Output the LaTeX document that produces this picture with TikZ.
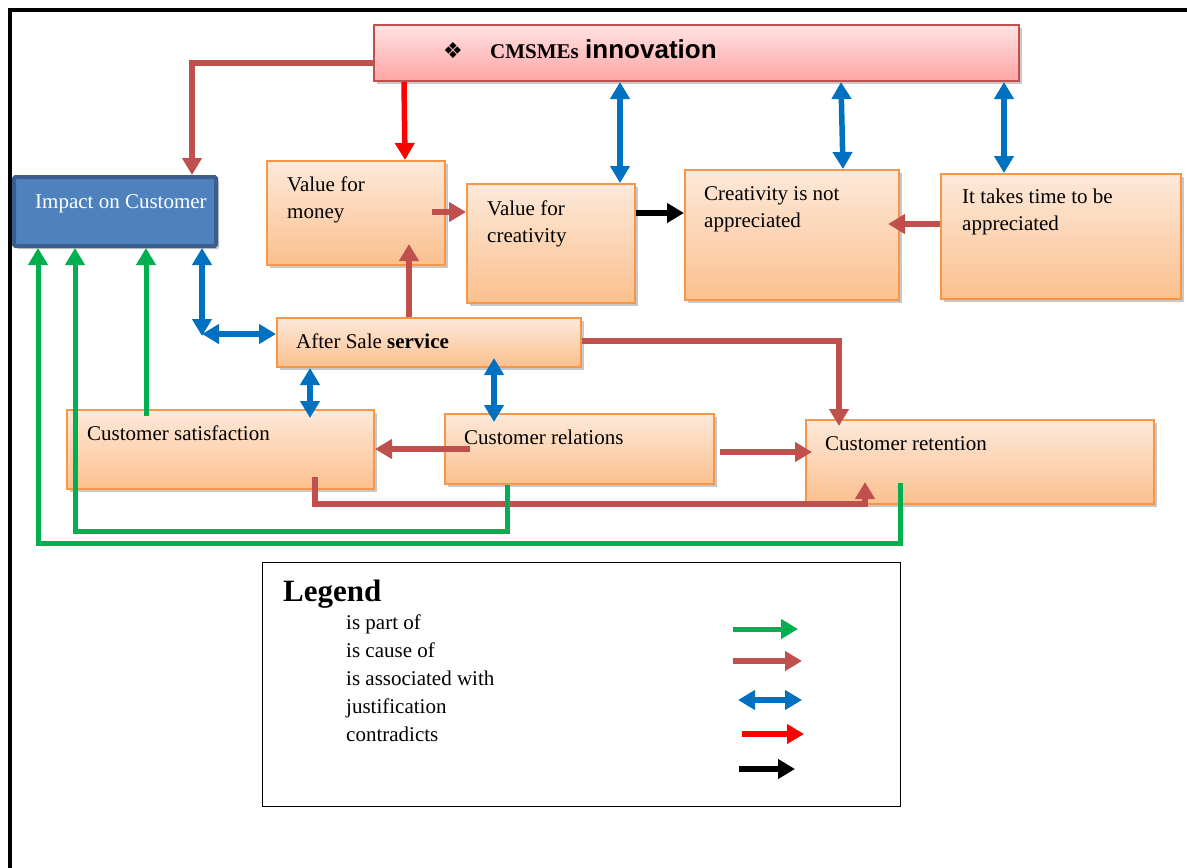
\documentclass[tikz,border=0pt]{standalone}
\usepackage{fontspec}
\setmainfont{Liberation Serif}
\newfontfamily\arialf{Liberation Sans}
\newfontfamily\djv{DejaVu Sans}
\usetikzlibrary{arrows.meta,shadows,calc}
\definecolor{cbrown}{HTML}{C0504D}
\definecolor{cgreen}{HTML}{00B050}
\definecolor{cblue}{HTML}{0070C0}
\definecolor{cred}{HTML}{FF0000}
\definecolor{oborder}{HTML}{F79646}
\definecolor{otop}{HTML}{FDE9DA}
\definecolor{obot}{HTML}{FBC08E}
\definecolor{ptop}{HTML}{FFE3E3}
\definecolor{pbot}{HTML}{FFA4A4}
\definecolor{ibfill}{HTML}{4F81BD}
\definecolor{ibdraw}{HTML}{3A5F8E}
\begin{document}
\begin{tikzpicture}[x=1pt,y=-1pt,
  shad/.style={drop shadow={shadow xshift=3pt,shadow yshift=-3pt,opacity=.3,fill=black!70}},
  obox/.style={draw=oborder,line width=2pt,top color=otop,bottom color=obot,anchor=north west,inner sep=0pt,shad},
  txt/.style={anchor=north west,inner sep=0pt,align=left,font=\fontsize{21}{27}\selectfont},
  tipA/.style={-{Triangle[length=17pt,width=19pt]}},
  tipB/.style={{Triangle[length=17pt,width=19pt]}-{Triangle[length=17pt,width=19pt]}},
  cause/.style={draw=cbrown,line width=5.5pt,tipA,line join=miter},
  part/.style={draw=cgreen,line width=5pt,tipA,line join=miter},
  assoc/.style={draw=cblue,line width=5.5pt,tipB},
  justif/.style={draw=cred,line width=5.5pt,tipA},
  contra/.style={draw=black,line width=5.5pt,tipA},
]
\useasboundingbox (0,0) rectangle (1187,868);
\fill[white] (0,0) rectangle (1187,868);
% frame
\draw[line width=3.5pt,line join=miter] (1187,10) -- (10,10) -- (10,868);

% top box
\node[draw=cbrown,line width=2pt,top color=ptop,bottom color=pbot,anchor=north west,inner sep=0pt,shad,
      minimum width=645pt,minimum height=56pt] (top) at (373,24) {};
\node[anchor=base west,inner sep=0pt,font=\djv\fontsize{22}{24}\selectfont] (tsym) at (443,58) {❖};
\node[anchor=base west,inner sep=0pt,font=\bfseries\fontsize{21}{25}\selectfont] (tcm) at (490,58) {CMSMEs};
\node[anchor=base west,inner sep=0pt,font=\arialf\bfseries\fontsize{26}{30}\selectfont] (tin) at (585,58) {innovation};

% impact box
\node[draw=ibdraw,fill=ibfill,line width=4pt,rounded corners=1.5pt,anchor=north west,inner sep=0pt,shad,
      minimum width=202pt,minimum height=69pt] (imp) at (12,175) {};
\node[txt,text=white] (impt) at (35,194) {Impact on Customer};

% orange boxes
\node[obox,minimum width=178pt,minimum height=104pt] (vfm) at (266,160) {};
\node[txt] (vfmt) at (287,177) {Value for\\money};
\node[obox,minimum width=168pt,minimum height=119pt] (vfc) at (466,183) {};
\node[txt] (vfct) at (487,201) {Value for\\creativity};
\node[obox,minimum width=214pt,minimum height=130pt] (cna) at (684,169) {};
\node[txt] (cnat) at (704,186) {Creativity is not\\appreciated};
\node[obox,minimum width=240pt,minimum height=125pt] (tt) at (940,173) {};
\node[txt] (ttt) at (962,189) {It takes time to be\\appreciated};
\node[obox,minimum width=304pt,minimum height=49pt] (asv) at (276,317) {};
\node[txt] (asvt) at (296,334) {After Sale \textbf{service}};
\node[obox,minimum width=307pt,minimum height=79pt] (crs) at (66,409) {};
\node[txt] (crst) at (87,426) {Customer satisfaction};
\node[obox,minimum width=269pt,minimum height=70pt] (crl) at (444,413) {};
\node[txt] (crlt) at (464,430) {Customer relations};
\node[obox,minimum width=348pt,minimum height=84pt] (crt) at (805,419) {};
\node[txt] (crtt) at (825,436) {Customer retention};

% connectors
\draw[cause] (top.west |- 0,63) -| (192,0 |- imp.north);
\draw[justif] (404,0 |- top.south) -- (405,0 |- vfm.north);
\draw[assoc] (620,0 |- top.south) -- (620,0 |- vfc.north);
\draw[assoc] (841,0 |- top.south) -- (843,0 |- cna.north);
\draw[assoc] (1004,0 |- top.south) -- (1004,0 |- tt.north);
\draw[cause] (432,212) -- (vfc.west |- 0,212);
\draw[contra] (vfc.east |- 0,213) -- (cna.west |- 0,213);
\draw[cause] (tt.west |- 0,224) -- (888,224);
\draw[cause] (409,0 |- asv.north) -- (409,244);
\coordinate (bc) at (202,334);
\draw[assoc] (202,0 |- imp.south) -- (202,336);
\draw[assoc] (bc) -- (asv.west |- bc);
\draw[assoc] (310,0 |- asv.south) -- (310,418);
\draw[assoc] (494,358) -- (494,422);
\draw[cause] (asv.east |- 0,341) -| (839,426);
\draw[cause] (470,449) -- (crs.east |- 0,449);
\draw[cause] (720,452) -- (812,452);
\draw[cause] (315,477) |- (865,504) -- (865,482);
\draw[part] (146,416) -- (146,0 |- imp.south);
\draw[part] (507,0 |- crl.south) |- (75,531) -- (75,0 |- imp.south);
\draw[part] (900,483) |- (38,543) -- (38,0 |- imp.south);

% legend
\node[draw,line width=1.3pt,anchor=north west,inner sep=0pt,minimum width=638pt,minimum height=244pt] (leg) at (262,562) {};
\node[anchor=north west,inner sep=0pt,font=\bfseries\fontsize{31}{36}\selectfont] (legt) at (283,580) {Legend};
\node[txt,font=\fontsize{21}{28}\selectfont] (legi) at (346,615) {is part of\\is cause of\\is associated with\\justification\\contradicts};
\draw[part] (733,629) -- (798,629);
\draw[cause] (733,661) -- (802,661);
\draw[assoc] (738,700) -- (802,700);
\draw[justif] (742,734) -- (804,734);
\draw[contra] (739,769) -- (795,769);
\end{tikzpicture}
\end{document}
